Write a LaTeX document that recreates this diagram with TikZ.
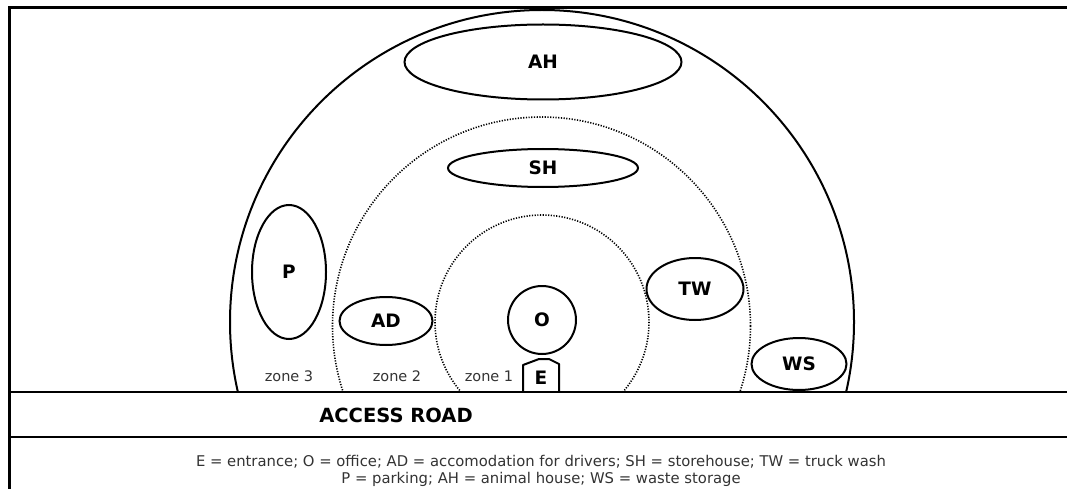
\documentclass[tikz,border=0pt]{standalone}
\usepackage{fontspec}
\setmainfont{DejaVu Sans}
\usetikzlibrary{shapes.geometric}
\begin{document}
\begin{tikzpicture}[x=1pt,y=-1pt,
  lbl/.style={font=\bfseries\fontsize{18.5}{18.5}\selectfont},
  roadtext/.style={font=\bfseries\fontsize{19.5}{19.5}\selectfont},
  zonetext/.style={font=\fontsize{14.5}{14.5}\selectfont, text=black!80},
  facility/.style={draw, line width=2pt, ellipse, inner sep=0pt, font=\bfseries\fontsize{18.5}{18.5}\selectfont},
  ring/.style={line width=2pt},
  zoneline/.style={line width=1.6pt, dash pattern=on 1.2pt off 1.5pt},
  frameline/.style={line width=3pt},
  roadline/.style={line width=2.2pt}]
\useasboundingbox (0,0) rectangle (1067,489);
% frame
\draw[frameline] (9,489) -- (9,8) -- (1067,8);
% rings, cut by the road
\begin{scope}
\clip (0,0) rectangle (1067,392);
\draw[ring] (542,322) circle (312);
\draw[zoneline] (541.5,326) circle (209);
\draw[zoneline] (542,322) circle (107);
\end{scope}
% road
\draw[roadline] (9,392) -- (1067,392);
\draw[roadline] (9,437) -- (1067,437);
\node[roadtext] (road) at (396,415) {ACCESS ROAD};
% facilities
\node[facility, minimum width=277, minimum height=75] (AH) at (543,62) {AH};
\node[facility, minimum width=190, minimum height=38] (SH) at (543,168) {SH};
\node[facility, minimum width=74, minimum height=134] (P) at (289,272) {P};
\node[facility, minimum width=93, minimum height=48] (AD) at (386,321) {AD};
\node[facility, circle, minimum size=68] (O) at (542,320) {O};
\node[facility, minimum width=97, minimum height=62] (TW) at (695,289) {TW};
\node[facility, minimum width=95, minimum height=52] (WS) at (799,364) {WS};
% entrance
\draw[line width=2pt, line join=round] (523,392) -- (523,365) -- (539,359) -- (549,359) -- (559,364) -- (559,392);
\node[lbl] (E) at (541,378) {E};
% zones
\node[zonetext] (z3) at (289,376) {zone 3};
\node[zonetext] (z2) at (397,376) {zone 2};
\node[zonetext] (z1) at (489,376) {zone 1};
% legend
\node[font=\fontsize{14.8}{16.5}\selectfont, text=black!80, align=center] (legend) at (541,471)
  {E = entrance; O = office; AD = accomodation for drivers; SH = storehouse; TW = truck wash\\
   P = parking; AH = animal house; WS = waste storage};
\end{tikzpicture}
\end{document}
